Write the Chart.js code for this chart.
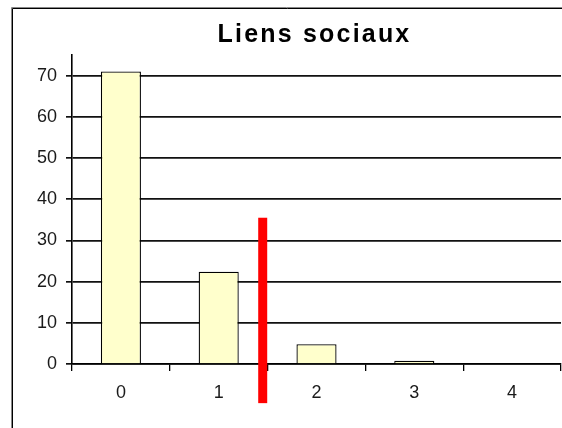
<!DOCTYPE html>
<html>
<head>
<meta charset="utf-8">
<script src="https://cdn.jsdelivr.net/npm/chart.js@4.4.0/dist/chart.umd.min.js"></script>
<style>
  html, body { margin: 0; padding: 0; background: #ffffff; }
  #wrap { width: 562px; height: 428px; position: relative; }
</style>
</head>
<body>
<div id="wrap"><canvas id="c" width="562" height="428"></canvas></div>
<script>
// ---- data ----
const chartTitle = "Liens sociaux";
const categories = ["0", "1", "2", "3", "4"];
const counts = [71, 22.4, 4.8, 0.8, 0];
const yTicks = [0, 10, 20, 30, 40, 50, 60, 70];
// red threshold marker, in data units (category position, value top, value bottom)
const markerPosition = [1.45];
const markerRange = [35.5, -9.5];

const FONT = "'Liberation Sans', Arial, sans-serif";

const framePlugin = {
  id: 'frame',
  beforeDraw(chart) {
    const ctx = chart.ctx;
    ctx.save();
    ctx.fillStyle = '#ffffff';
    ctx.fillRect(0, 0, chart.width, chart.height);
    ctx.strokeStyle = '#000000';
    ctx.lineWidth = 1;
    ctx.beginPath();
    ctx.moveTo(12.5, chart.height);
    ctx.lineTo(12.5, 8.5);
    ctx.lineTo(chart.width, 8.5);
    ctx.stroke();
    ctx.strokeStyle = '#888888';
    ctx.beginPath();
    ctx.moveTo(11.5, chart.height);
    ctx.lineTo(11.5, 7.5);
    ctx.lineTo(chart.width, 7.5);
    ctx.stroke();
    ctx.restore();
  }
};

const titlePlugin = {
  id: 'letterTitle',
  afterDraw(chart) {
    const ctx = chart.ctx;
    const a = chart.chartArea;
    ctx.save();
    ctx.font = "bold 25px " + FONT;
    if ('letterSpacing' in ctx) ctx.letterSpacing = '2.2px';
    ctx.fillStyle = '#000000';
    ctx.textAlign = 'center';
    ctx.textBaseline = 'alphabetic';
    ctx.fillText(chartTitle, (a.left + a.right) / 2 - 2, 42);
    ctx.restore();
  }
};

const markerPlugin = {
  id: 'marker',
  afterDraw(chart) {
    const x = chart.scales.x, y = chart.scales.y;
    const ctx = chart.ctx;
    ctx.save();
    ctx.fillStyle = '#ff0000';
    markerPosition.forEach(p => {
      const i = Math.floor(p);
      const p0 = x.getPixelForValue(i);
      const p1 = x.getPixelForValue(i + 1);
      const px = p0 + (p - i) * (p1 - p0);
      const yt = y.getPixelForValue(markerRange[0]);
      const yb = y.getPixelForValue(markerRange[1]);
      ctx.fillRect(px - 4.5, yt, 9, yb - yt);
    });
    ctx.restore();
  }
};

new Chart(document.getElementById('c'), {
  type: 'bar',
  data: {
    labels: categories,
    datasets: [{
      data: counts,
      backgroundColor: '#ffffcc',
      borderColor: '#000000',
      borderWidth: (c) => (c.raw ? 1.3 : 0),
      categoryPercentage: 1,
      barPercentage: 0.41
    }]
  },
  options: {
    responsive: false,
    animation: false,
    devicePixelRatio: 1,
    layout: { padding: { top: 55, left: 0, right: 1, bottom: 0 } },
    plugins: {
      legend: { display: false },
      title: { display: false },
      tooltip: { enabled: false }
    },
    scales: {
      x: {
        offset: true,
        afterFit(s) { s.height = 64; },
        grid: {
          offset: true,
          drawOnChartArea: false,
          drawTicks: true,
          tickLength: 7,
          color: '#000000',
          lineWidth: 1.3
        },
        border: { display: true, color: '#000000', width: 1.6 },
        ticks: {
          color: '#1a1a1a',
          padding: 11,
          font: { family: FONT, size: 18 }
        }
      },
      y: {
        min: 0,
        max: 75,
        afterFit(s) { s.width = 72; },
        afterBuildTicks(s) { s.ticks = yTicks.map(v => ({ value: v })); },
        grid: {
          color: '#111111',
          lineWidth: 1.7,
          drawTicks: true,
          tickLength: 6
        },
        border: { display: true, color: '#000000', width: 1.6 },
        ticks: {
          color: '#1a1a1a',
          padding: 9,
          font: { family: FONT, size: 18 }
        }
      }
    }
  },
  plugins: [framePlugin, titlePlugin, markerPlugin]
});
</script>
</body>
</html>
